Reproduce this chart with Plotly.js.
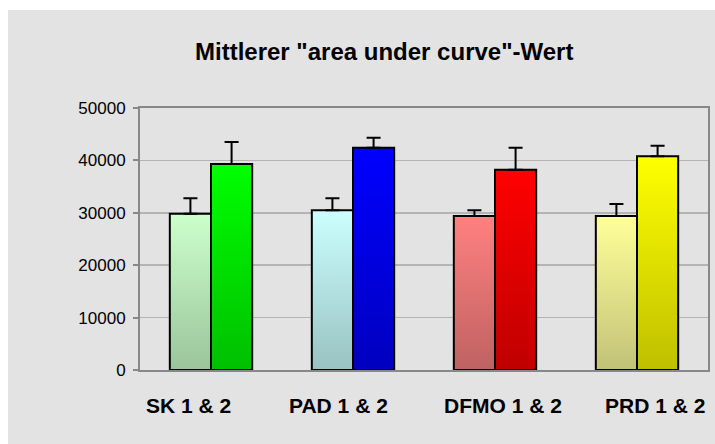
<!DOCTYPE html>
<html>
<head>
<meta charset="utf-8">
<script src="https://cdn.plot.ly/plotly-3.0.1.min.js"></script>
<style>
  html, body { margin: 0; padding: 0; background: #ffffff; }
  #chart { position: absolute; left: 8px; top: 10px; width: 707px; height: 434px; }
</style>
</head>
<body>
<div id="chart"></div>
<script>
// ---- data ----
const categories = ["SK 1 & 2", "PAD 1 & 2", "DFMO 1 & 2", "PRD 1 & 2"];
const values1 = [29800, 30500, 29400, 29400];
const errors1 = [3000, 2300, 1100, 2300];
const values2 = [39300, 42400, 38200, 40800];
const errors2 = [4200, 1900, 4200, 2000];
const titleText = 'Mittlerer "area under curve"-Wert';

// ---- styles ----
const topColors1 = ["#ccffcc", "#ccffff", "#ff8080", "#ffff99"];
const botColors1 = ["#9bc49b", "#99c2c2", "#c06262", "#c2c278"];
const topColors2 = ["#00ff00", "#0000ff", "#ff0000", "#ffff00"];
const botColors2 = ["#00bf00", "#0000bf", "#bf0000", "#bfbf00"];
const midColors1 = ["#b4e2b4", "#b2e0e0", "#e07070", "#e0e08a"];
const midColors2 = ["#00df00", "#0000df", "#df0000", "#dfdf00"];
const labelShift = [-23, -15, 8, 18];

const errStyle = { type: "data", symmetric: false, color: "#000000", thickness: 2, width: 7 };

const traces = [
  {
    type: "bar", x: categories, y: values1, name: "1",
    marker: { color: midColors1, line: { color: "#000000", width: 2 } },
    error_y: Object.assign({}, errStyle, { array: errors1, arrayminus: errors1.map(() => 0) }),
    hoverinfo: "none"
  },
  {
    type: "bar", x: categories, y: values2, name: "2",
    marker: { color: midColors2, line: { color: "#000000", width: 2 } },
    error_y: Object.assign({}, errStyle, { array: errors2, arrayminus: errors2.map(() => 0) }),
    hoverinfo: "none"
  }
];

const annotations = categories.map((c, i) => ({
  x: c, xref: "x", y: 0, yref: "paper",
  yanchor: "middle", yshift: -35, xshift: labelShift[i],
  text: "<b>" + c + "</b>", showarrow: false,
  font: { family: "Liberation Sans, Arial, sans-serif", size: 21, color: "#000000" }
}));

const layout = {
  width: 707, height: 434,
  paper_bgcolor: "#e3e3e3",
  plot_bgcolor: "#e3e3e3",
  margin: { l: 132, r: 7, t: 98, b: 74 },
  showlegend: false,
  barmode: "group",
  bargap: 0.42,
  bargroupgap: 0,
  title: {
    text: "<b>" + titleText + "</b>",
    x: 0.2645, xref: "container", xanchor: "left",
    y: 0.905, yref: "container", yanchor: "middle",
    font: { family: "Liberation Sans, Arial, sans-serif", size: 24, color: "#000000" }
  },
  xaxis: {
    type: "category",
    showticklabels: false,
    ticks: "",
    showline: true, mirror: true, linecolor: "#888888", linewidth: 2,
    showgrid: false, zeroline: false
  },
  yaxis: {
    range: [0, 50000], dtick: 10000, tick0: 0,
    tickformat: "d",
    showline: true, mirror: true, linecolor: "#888888", linewidth: 2,
    ticks: "outside", ticklen: 5, tickcolor: "#888888", tickwidth: 2,
    showgrid: true, gridcolor: "#b4b4b4", gridwidth: 1.5,
    zeroline: false,
    tickfont: { family: "Liberation Sans, Arial, sans-serif", size: 17, color: "#000000" },
    ticklabelstandoff: 4
  },
  annotations: annotations
};

function applyGradients(gd) {
  const svg = gd.querySelector(".main-svg");
  const ns = "http://www.w3.org/2000/svg";
  let defs = svg.querySelector("defs");
  if (!defs) { defs = document.createElementNS(ns, "defs"); svg.insertBefore(defs, svg.firstChild); }
  const tops = [topColors1, topColors2];
  const bots = [botColors1, botColors2];
  const traceGroups = gd.querySelectorAll(".barlayer .trace");
  traceGroups.forEach((tg, t) => {
    const paths = tg.querySelectorAll(".point path");
    paths.forEach((p, i) => {
      const id = "grad_" + t + "_" + i;
      if (!document.getElementById(id)) {
        const lg = document.createElementNS(ns, "linearGradient");
        lg.setAttribute("id", id);
        lg.setAttribute("x1", "0"); lg.setAttribute("y1", "0");
        lg.setAttribute("x2", "0"); lg.setAttribute("y2", "1");
        const s1 = document.createElementNS(ns, "stop");
        s1.setAttribute("offset", "0"); s1.setAttribute("stop-color", tops[t][i]);
        const s2 = document.createElementNS(ns, "stop");
        s2.setAttribute("offset", "1"); s2.setAttribute("stop-color", bots[t][i]);
        lg.appendChild(s1); lg.appendChild(s2);
        defs.appendChild(lg);
      }
      p.style.fill = "url(#" + id + ")";
    });
  });
}

Plotly.newPlot("chart", traces, layout, { staticPlot: true, displayModeBar: false })
  .then(gd => applyGradients(gd));
</script>
</body>
</html>
